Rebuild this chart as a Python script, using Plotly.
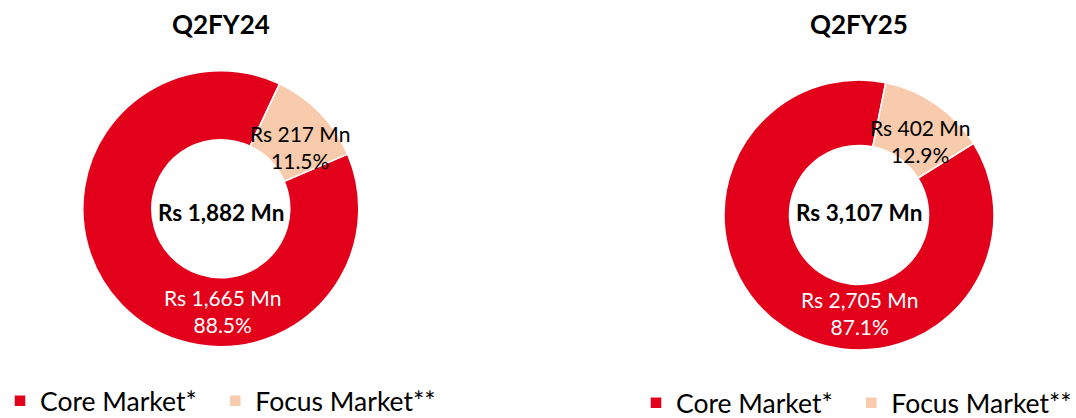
import plotly.graph_objects as go

# Revenue split by market (Rs Mn)
labels = ["Core Market*", "Focus Market**"]
periods = ["Q2FY24", "Q2FY25"]
core_values = [1665, 2705]
focus_values = [217, 402]
totals = [1882, 3107]

colors = ["#E2001A", "#F8CBAD"]
FONT = "Lato"
W, H = 1076, 418

# a little trailing room after the first legend entry
legend_labels = [labels[0] + "\u00a0" * 2, labels[1]]

# pixel geometry for each donut: centre x, centre y, outer radius, hole ratio
geom = [
    dict(cx=220.8, cy=208.7, r=138.0, hole=0.50, rot=66.7),
    dict(cx=859.0, cy=215.0, r=135.0, hole=0.515, rot=58.0),
]


def ann(px, py, text, size, color="black"):
    return dict(
        x=px / W, y=1 - py / H, xref="paper", yref="paper",
        xanchor="center", yanchor="middle",
        text=text, showarrow=False,
        font=dict(family=FONT, size=size, color=color),
    )


fig = go.Figure()
annotations = []

for i, g in enumerate(geom):
    vals = [core_values[i], focus_values[i]]
    fig.add_trace(go.Pie(
        labels=legend_labels,
        values=vals,
        hole=g["hole"],
        sort=False,
        direction="clockwise",
        rotation=g["rot"],
        textinfo="none",
        hoverinfo="label+value+percent",
        marker=dict(colors=colors, line=dict(color="white", width=1.5)),
        domain=dict(
            x=[(g["cx"] - g["r"]) / W, (g["cx"] + g["r"]) / W],
            y=[1 - (g["cy"] + g["r"]) / H, 1 - (g["cy"] - g["r"]) / H],
        ),
        legend="legend" if i == 0 else "legend2",
        legendgroup=periods[i],
        showlegend=True,
    ))

    # period title
    annotations.append(ann(g["cx"], 24, f"<b>{periods[i]}</b>", 26))
    # total in the hole
    annotations.append(ann(g["cx"], 212, f"<b>Rs {totals[i]:,} Mn</b>", 22.5))

# slice labels (positions in px)
focus_pos = [(300, 147), (920, 141)]
core_pos = [(222, 311), (859.5, 313)]
for i in range(2):
    total = core_values[i] + focus_values[i]
    fx, fy = focus_pos[i]
    cx, cy = core_pos[i]
    annotations.append(ann(
        fx, fy,
        f"Rs {focus_values[i]:,} Mn<br>{focus_values[i] / total * 100:.1f}%",
        21, "black"))
    annotations.append(ann(
        cx, cy,
        f"Rs {core_values[i]:,} Mn<br>{core_values[i] / total * 100:.1f}%",
        21, "white"))

legend_common = dict(
    orientation="h", yanchor="middle",
    traceorder="normal",
    font=dict(family=FONT, size=26.5, color="black"),
    bgcolor="rgba(0,0,0,0)", borderwidth=0,
)

fig.update_layout(
    width=W, height=H,
    margin=dict(l=0, r=0, t=0, b=0, autoexpand=False),
    paper_bgcolor="white",
    plot_bgcolor="white",
    annotations=annotations,
    legend=dict(**legend_common, x=0.0, xanchor="left", y=1 - 401 / H),
    legend2=dict(**legend_common, x=1077 / W, xanchor="right", y=1 - 403 / H),
    font=dict(family=FONT),
)

fig.write_html("out.html")
